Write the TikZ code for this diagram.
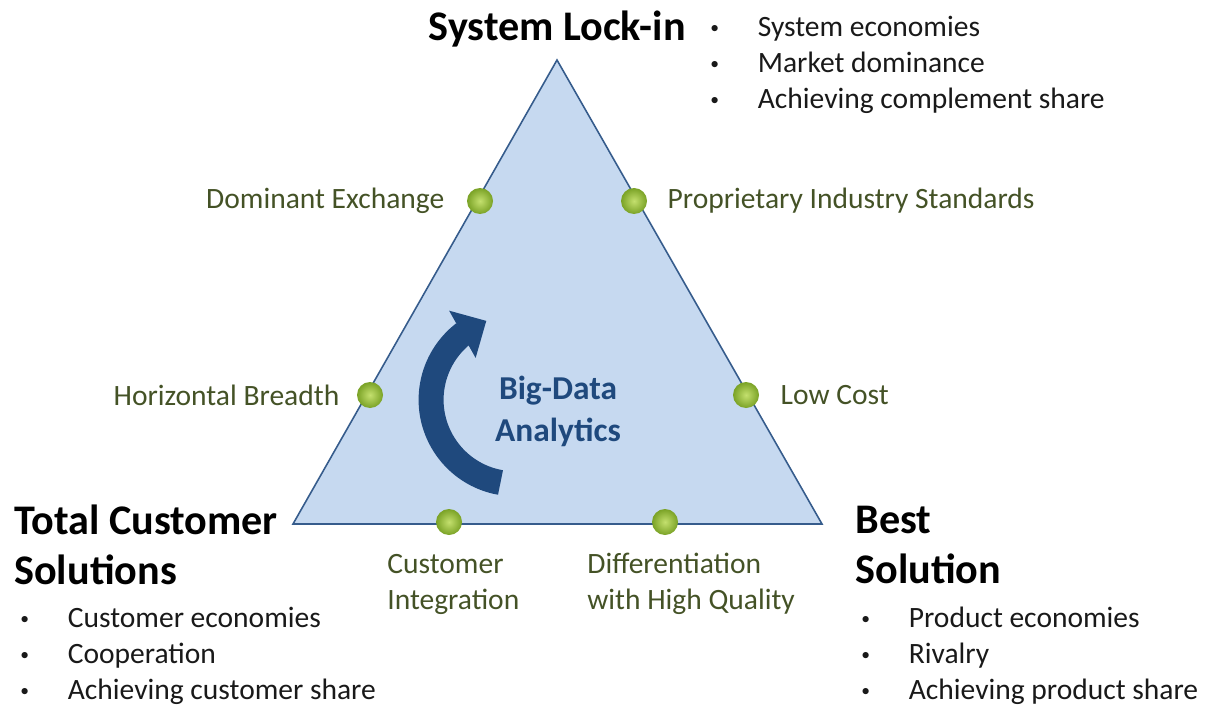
\documentclass[tikz,border=0pt]{standalone}
\usepackage{fontspec}
\setmainfont{Carlito}
\usetikzlibrary{positioning,arrows.meta,bending}

\definecolor{trifill}{RGB}{198,217,240}
\definecolor{triedge}{RGB}{54,92,140}
\definecolor{arrowblue}{RGB}{31,73,125}
\definecolor{lblgreen}{RGB}{68,82,38}
\definecolor{dotlight}{RGB}{196,224,110}
\definecolor{dotdark}{RGB}{122,162,38}

\newcommand{\bitem}[1]{\makebox[0.95cm][l]{\raisebox{0.12em}{\fontsize{10}{10}\selectfont\textbullet}}#1}

\begin{document}
\begin{tikzpicture}
    % Define the styles
    \tikzset{dot/.style={circle, inner sep=0pt, minimum size=0.52cm, inner color=dotlight, outer color=dotdark}}
    \tikzset{lbl/.style={inner sep=0pt, text=lblgreen, font=\fontsize{16.8}{20.5}\selectfont}}
    \tikzset{head/.style={inner sep=0pt, align=left, font=\fontsize{24}{28.5}\selectfont\bfseries}}
    \tikzset{points/.style={inner sep=0pt, align=left, text=black!90, font=\fontsize{16.8}{20.5}\selectfont}}

    \useasboundingbox (0,0) rectangle (24.28,-14.12);

    % The triangle
    \coordinate (top) at (11.14,-1.2);
    \coordinate (bl) at (5.86,-10.48);
    \coordinate (br) at (16.44,-10.48);
    \filldraw[fill=trifill, draw=triedge, line width=0.9pt, line join=miter] (top) -- (br) -- (bl) -- cycle;

    % The turning arrow
    \coordinate (arcstart) at (10.01,-9.65);
    \draw[arrowblue, line width=0.5cm, -{Triangle[length=0.55cm, width=1.05cm, flex]}]
        (arcstart) arc[start angle=260, end angle=110, radius=1.68cm];
    \node[text=arrowblue, align=center, font=\fontsize{19}{24}\selectfont\bfseries] (bigdata) at (11.16,-8.22) {Big-Data\\Analytics};

    % The dots on the edges
    \node[dot] (dex) at (9.6,-4.02) {};
    \node[dot] (pis) at (12.68,-4.02) {};
    \node[dot] (hbr) at (7.4,-7.9) {};
    \node[dot] (low) at (14.92,-7.9) {};
    \node[dot] (cin) at (8.98,-10.44) {};
    \node[dot] (dif) at (13.3,-10.44) {};

    % Labels of the dots
    \node[lbl, left=0.44cm of dex] (dexlbl) {Dominant Exchange};
    \node[lbl, right=0.4cm of pis] (pislbl) {Proprietary Industry Standards};
    \node[lbl, left=0.34cm of hbr] (hbrlbl) {Horizontal Breadth};
    \node[lbl, right=0.42cm of low] (lowlbl) {Low Cost};
    \node[lbl, align=left, anchor=west] (cinlbl) at (7.74,-11.68) {Customer\\Integration};
    \node[lbl, align=left, anchor=west] (diflbl) at (11.74,-11.68) {Differentiation\\with High Quality};

    % Corners
    \node[head, anchor=east] (lockin) at (13.72,-0.58) {System Lock-in};
    \node[points, anchor=west] (lockinpts) at (14.2,-1.3) {\bitem{System economies}\\\bitem{Market dominance}\\\bitem{Achieving complement share}};

    \node[head, anchor=west] (tcs) at (0.28,-10.9) {Total Customer\\Solutions};
    \node[points, anchor=west] (tcspts) at (0.4,-13.12) {\bitem{Customer economies}\\\bitem{Cooperation}\\\bitem{Achieving customer share}};

    \node[head, anchor=west] (best) at (17.1,-10.9) {Best\\Solution};
    \node[points, anchor=west] (bestpts) at (17.22,-13.12) {\bitem{Product economies}\\\bitem{Rivalry}\\\bitem{Achieving product share}};

\end{tikzpicture}
\end{document}
